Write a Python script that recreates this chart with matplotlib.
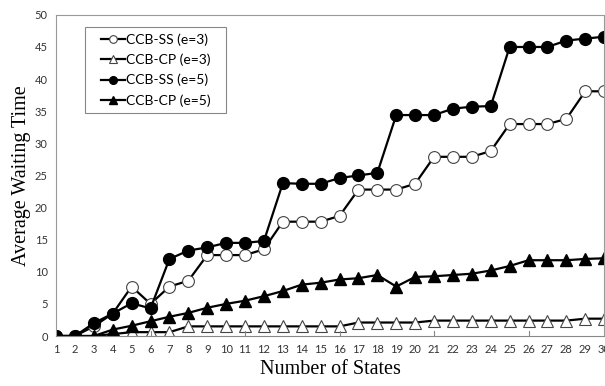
import matplotlib.pyplot as plt
from matplotlib.patches import Rectangle

# number of states on the x axis
states = list(range(1, 31))

ss_e3 = [0, 0, 1.5, 3.5, 7.7, 5.0, 7.7, 8.6, 12.6, 12.6, 12.6, 13.5, 17.8, 17.8, 17.8,
         18.7, 22.8, 22.8, 22.8, 23.7, 27.9, 27.9, 27.9, 28.8, 33.0, 33.0, 33.0, 33.8, 38.1, 38.1]
cp_e3 = [0, 0, 0, 0.3, 0.6, 0.6, 0.6, 1.5, 1.5, 1.5, 1.5, 1.5, 1.5, 1.5, 1.5,
         1.5, 2.1, 2.1, 2.1, 2.1, 2.4, 2.4, 2.4, 2.4, 2.4, 2.4, 2.4, 2.4, 2.7, 2.7]
ss_e5 = [0, 0, 2.0, 3.5, 5.1, 4.3, 12.0, 13.3, 13.8, 14.5, 14.5, 14.8, 23.8, 23.7, 23.7,
         24.6, 25.0, 25.4, 34.4, 34.4, 34.4, 35.4, 35.7, 35.8, 45.0, 45.0, 45.0, 46.0, 46.3, 46.6]
cp_e5 = [0, 0, 0, 1.0, 1.6, 2.3, 3.0, 3.6, 4.4, 5.0, 5.5, 6.2, 7.0, 8.0, 8.3,
         8.8, 9.0, 9.5, 7.7, 9.2, 9.3, 9.5, 9.7, 10.2, 10.9, 11.8, 11.8, 11.8, 12.0, 12.1]

plt.rcParams['font.family'] = ['Lato', 'DejaVu Sans']

fig = plt.figure(figsize=(6.05, 3.86), dpi=100)
ax = fig.add_axes([0.0926, 0.1295, 0.906, 0.832])

ax.plot(states, ss_e3, color='black', lw=1.6, marker='o', ms=8.5,
        mfc='white', mec='#444444', mew=0.8, label='CCB-SS (e=3)')
ax.plot(states, cp_e3, color='black', lw=1.6, marker='^', ms=9,
        mfc='white', mec='#444444', mew=0.8, label='CCB-CP (e=3)')
ax.plot(states, ss_e5, color='black', lw=1.6, marker='o', ms=8.5,
        mfc='black', mec='black', label='CCB-SS (e=5)')
ax.plot(states, cp_e5, color='black', lw=1.6, marker='^', ms=9,
        mfc='black', mec='black', label='CCB-CP (e=5)')

ax.set_xlim(1, 30)
ax.set_ylim(0, 50)
ax.set_xticks(states)
ax.set_yticks(range(0, 51, 5))
ax.tick_params(axis='both', length=0, labelsize=8, colors='#333333', pad=6)

for side in ['top', 'right', 'left']:
    ax.spines[side].set_color('#999999')
ax.spines['bottom'].set_color('#888888')

# small tick marks every 5 states, as in the original
for x in [6, 11, 16, 21, 26]:
    ax.plot([x, x], [0, 0.8], color='#888888', lw=0.8, clip_on=False)

ax.set_xlabel('Number of States', family='Liberation Serif', fontsize=14.5, labelpad=3)
ax.set_ylabel('Average Waiting Time', family='Liberation Serif', fontsize=14.5, labelpad=3)

leg = ax.legend(loc='upper left', bbox_to_anchor=(0.075, 0.955), fontsize=10,
                handlelength=1.7, handletextpad=0.05, markerscale=0.65,
                labelspacing=0.55, frameon=False, borderpad=0.3, borderaxespad=0)

# legend frame: wider horizontal padding than matplotlib allows
fig.canvas.draw()
bb = leg.get_window_extent().transformed(ax.transAxes.inverted())
padx = 0.022
pady = 0.008
ax.add_patch(Rectangle((bb.x0 - padx, bb.y0 - pady), bb.width + 2 * padx,
                       bb.height + 2 * pady, transform=ax.transAxes,
                       fill=False, edgecolor='#888888', lw=0.8, zorder=5))

plt.savefig('out.png', dpi=100)
